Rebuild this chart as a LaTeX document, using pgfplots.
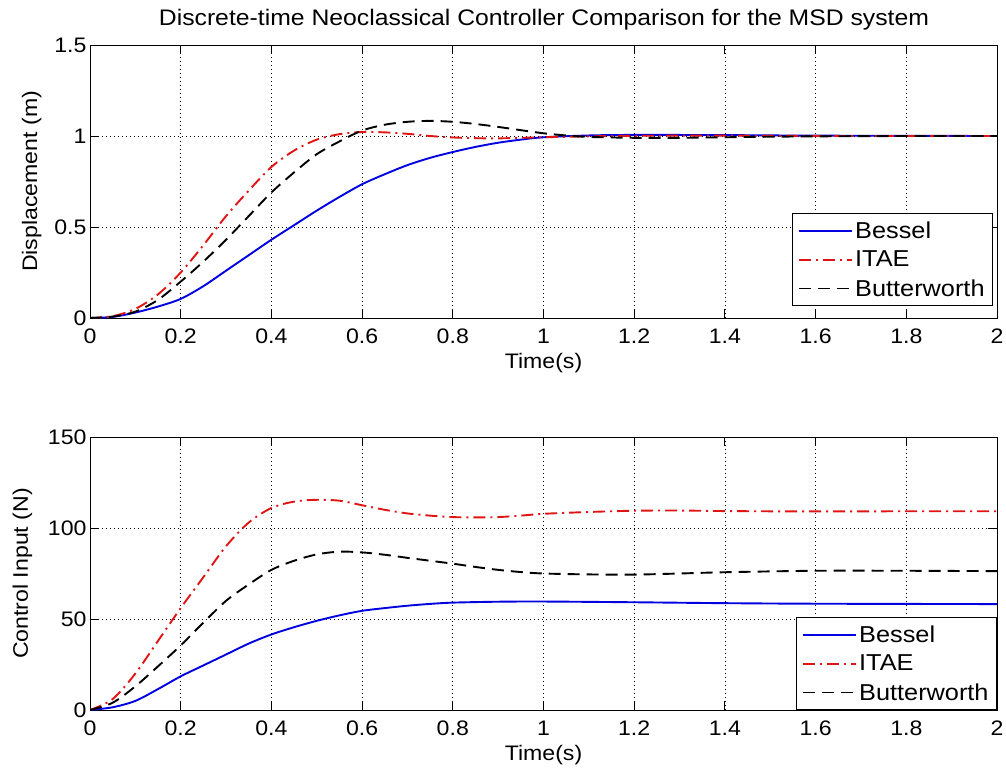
\documentclass[border=0pt]{standalone}
\usepackage{fontspec}
\setmainfont{Liberation Sans}[FakeStretch=1.1]
\usepackage{pgfplots}
\pgfplotsset{compat=1.18}
\definecolor{mblue}{RGB}{0,0,225}
\definecolor{mred}{RGB}{225,20,20}
\pgfplotsset{
  msd/.style={
    scale only axis, width=907pt, height=273pt,
    xmin=0, xmax=2, xtick={0,0.2,...,2.01},
    xticklabels={0,0.2,0.4,0.6,0.8,1,1.2,1.4,1.6,1.8,2},
    /pgf/number format/assume math mode=true,
    tick label style={font=\fontsize{21}{25}\selectfont},
    label style={font=\fontsize{21}{25}\selectfont},
    xticklabel style={anchor=base, yshift=-25pt},
    tick align=inside, major tick length=9pt,
    xtick pos=both, ytick pos=both,
    axis line style={line width=0.9pt},
    every tick/.style={black, line width=0.9pt},
    grid=major, major grid style={black, line width=0.8pt, dash pattern=on 1pt off 3pt},
    xlabel={Time(s)},
    xlabel style={at={(axis description cs:0.5,0)}, anchor=base, yshift=-50pt},
    legend cell align=left,
    legend image code/.code={\draw[##1] (0pt,0pt) -- (53pt,0pt);},
    legend style={draw=black, line width=0.9pt, fill=white,
      font=\fontsize{23}{25}\selectfont, inner xsep=6pt, inner ysep=6pt,
      row sep=7pt, anchor=south east},
    bes/.style={mblue, line width=1.9pt, smooth, tension=0.5},
    ita/.style={mred, line width=1.9pt, smooth, tension=0.5, dash pattern=on 12pt off 5pt on 2pt off 5pt},
    but/.style={black, line width=1.9pt, smooth, tension=0.5, dash pattern=on 12pt off 7pt},
  }
}
\begin{document}
\begin{tikzpicture}
\useasboundingbox (0,0) rectangle (1006pt,-770pt);
\node[font=\fontsize{22.5}{26}\selectfont] at (544pt,-20pt) {Discrete-time Neoclassical Controller Comparison for the MSD system};
\begin{axis}[msd, at={(90pt,-45pt)}, anchor=north west,
  ymin=0, ymax=1.5, ytick={0,0.5,1,1.5}, yticklabels={0,0.5,1,1.5},
  ylabel={Displacement (m)},
  ylabel style={at={(axis description cs:-0.0584,0.5)}, rotate=0, anchor=base},
  legend style={at={(0.9956,0.044)}}]
\addplot[bes] coordinates {(0,0) (0.05,0.006) (0.1,0.03) (0.15,0.063) (0.2,0.105) (0.25,0.175) (0.3,0.26) (0.35,0.345) (0.4,0.43) (0.45,0.51) (0.5,0.59) (0.55,0.665) (0.6,0.735) (0.65,0.79) (0.7,0.84) (0.75,0.88) (0.8,0.912) (0.85,0.94) (0.9,0.963) (0.95,0.98) (1.0,0.993) (1.1,1.003) (1.2,1.006) (1.4,1.005) (1.6,1.002) (2.0,1.0)};
\addplot[ita] coordinates {(0,0) (0.05,0.01) (0.1,0.05) (0.15,0.13) (0.2,0.25) (0.25,0.40) (0.3,0.56) (0.35,0.70) (0.4,0.83) (0.45,0.92) (0.5,0.98) (0.55,1.01) (0.6,1.022) (0.65,1.02) (0.7,1.012) (0.75,1.0) (0.8,0.992) (0.85,0.988) (0.9,0.987) (0.95,0.99) (1.0,0.993) (1.1,0.998) (1.2,1.001) (1.4,1.002) (1.6,1.0) (2.0,1.0)};
\addplot[but] coordinates {(0,0) (0.05,0.008) (0.1,0.035) (0.15,0.1) (0.2,0.20) (0.25,0.31) (0.3,0.43) (0.35,0.56) (0.4,0.69) (0.45,0.80) (0.5,0.90) (0.55,0.97) (0.6,1.03) (0.65,1.062) (0.7,1.078) (0.75,1.083) (0.8,1.078) (0.85,1.066) (0.9,1.05) (0.95,1.032) (1.0,1.015) (1.05,1.003) (1.1,0.995) (1.2,0.99) (1.3,0.99) (1.4,0.993) (1.5,0.996) (1.6,0.998) (1.8,1.0) (2.0,1.0)};
\legend{Bessel,ITAE,Butterworth}
\end{axis}
\begin{axis}[msd, at={(90pt,-437pt)}, anchor=north west,
  ymin=0, ymax=150, ytick={0,50,100,150}, yticklabels={0,50,100,150},
  ylabel={Control Input (N)},
  ylabel style={at={(axis description cs:-0.0684,0.5)}, rotate=0, anchor=base},
  legend style={at={(1,0)}}]
\addplot[bes] coordinates {(0,0) (0.05,1.5) (0.1,5) (0.15,11.5) (0.2,18.5) (0.25,24.5) (0.3,30.5) (0.35,36.5) (0.4,41.5) (0.45,45.5) (0.5,49) (0.55,52) (0.6,54.5) (0.65,56) (0.7,57.3) (0.75,58.3) (0.8,59) (0.9,59.5) (1.0,59.6) (1.2,59.2) (1.4,58.7) (1.6,58.4) (2.0,58.2)};
\addplot[ita] coordinates {(0,0) (0.05,6) (0.1,20) (0.15,38) (0.2,56) (0.25,73) (0.3,90) (0.35,103) (0.4,111) (0.45,114.5) (0.5,115.5) (0.55,115) (0.6,112.5) (0.65,110) (0.7,108) (0.75,106.8) (0.8,106) (0.85,105.8) (0.9,106) (0.95,106.8) (1.0,107.8) (1.1,108.8) (1.2,109.5) (1.3,109.6) (1.4,109.3) (1.6,109.1) (1.8,109.2) (2.0,109.2)};
\addplot[but] coordinates {(0,0) (0.05,4) (0.1,13) (0.15,24) (0.2,35.5) (0.25,48) (0.3,60) (0.35,69) (0.4,77) (0.45,82) (0.5,85.5) (0.55,87) (0.6,86.6) (0.65,85.3) (0.7,83.6) (0.75,82) (0.8,80.4) (0.85,78.6) (0.9,77) (0.95,75.8) (1.0,75) (1.1,74.5) (1.2,74.4) (1.3,75) (1.4,75.7) (1.6,76.5) (1.8,76.5) (2.0,76.3)};
\legend{Bessel,ITAE,Butterworth}
\end{axis}
\end{tikzpicture}
\end{document}
